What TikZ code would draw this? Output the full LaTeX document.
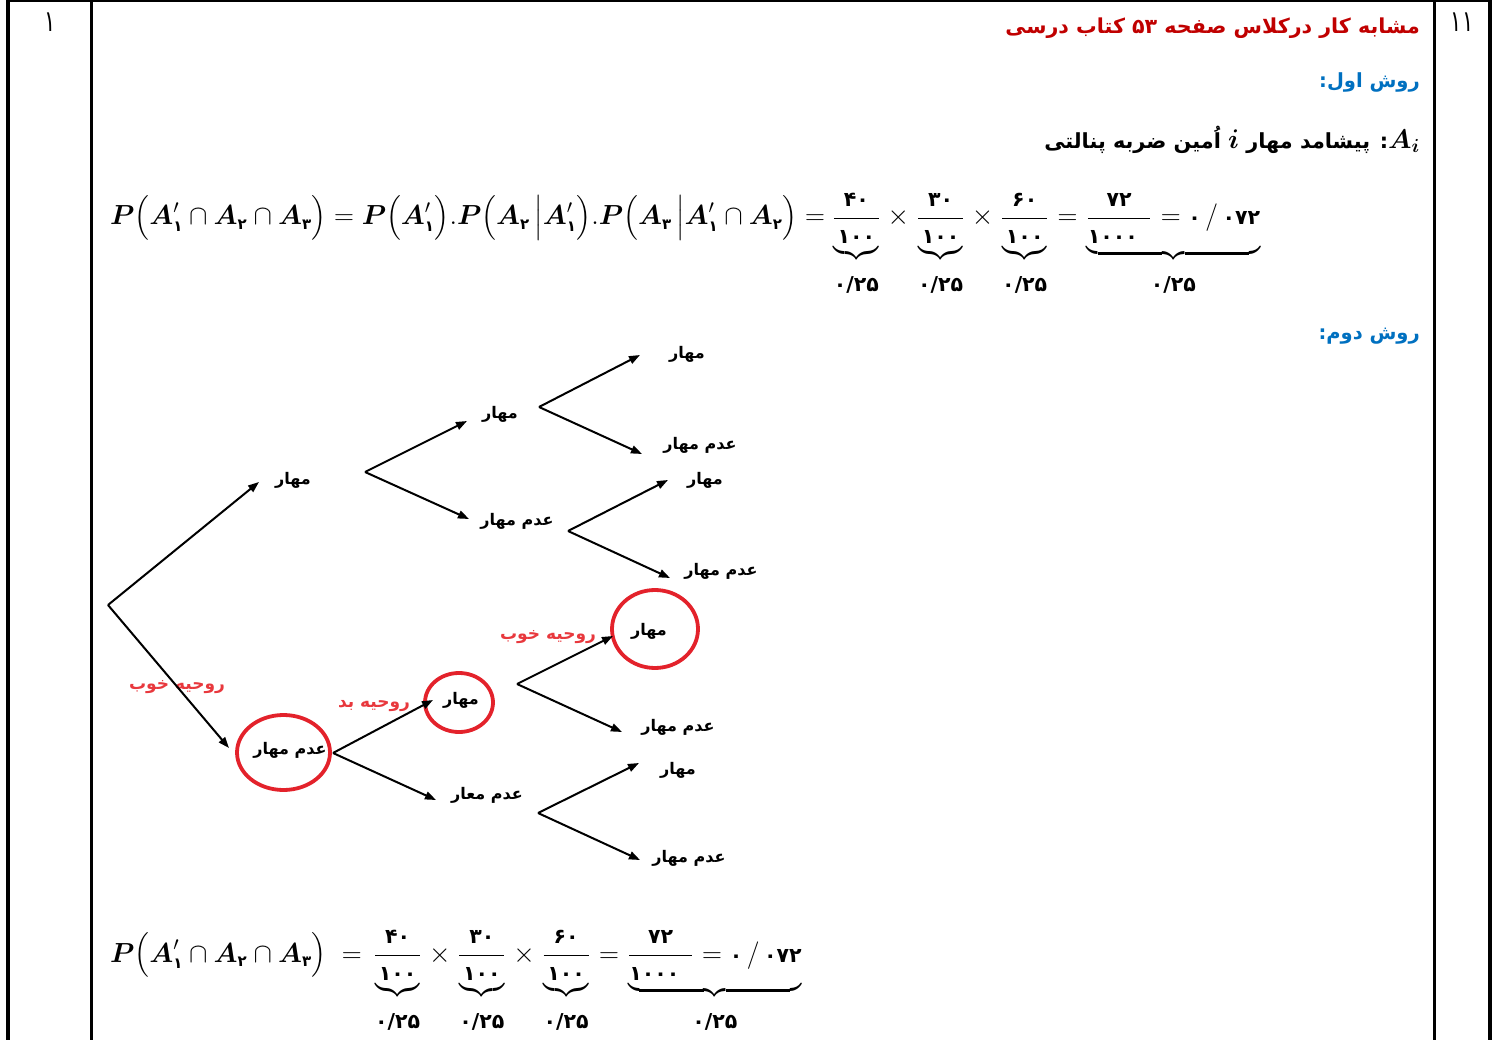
\RequirePackage{fix-cm}
\documentclass[tikz,border=0pt]{standalone}
\usepackage{amsmath}
\usepackage{bm}
\usepackage{fontspec}
\usetikzlibrary{arrows.meta,shapes.geometric}
\TeXXeTstate=1
\newfontfamily\fa[Script=Arabic]{DejaVu Sans}
\definecolor{hdrred}{HTML}{C00000}
\definecolor{hdrblue}{HTML}{0070C0}
\definecolor{circred}{HTML}{E3222B}
\definecolor{labred}{HTML}{E8383D}
\newcommand{\pn}[1]{\text{\fa\bfseries\fontsize{20.5}{22}\selectfont #1}}
\newcommand{\pns}[1]{\text{\fa\bfseries\fontsize{15}{17}\selectfont #1}}
\newcommand{\plab}[1]{\displaystyle\rule{0pt}{29pt}\pn{#1}}
\newcommand{\dstrut}{\rule[-5pt]{0pt}{5pt}}
\newcommand{\opsp}{\mkern1mu}
\newcommand{\myformula}{\bm{P}\Big(\bm{A}'_{\pns{۱}}\cap \bm{A}_{\pns{۲}}\cap \bm{A}_{\pns{۳}}\Big)}
\newcommand{\myfracs}{\frac{\pn{۴۰}}{\underbrace{\pn{۱۰۰}\dstrut}_{\plab{۰/۲۵}}}\opsp\times\opsp
\frac{\pn{۳۰}}{\underbrace{\pn{۱۰۰}\dstrut}_{\plab{۰/۲۵}}}\opsp\times\opsp
\frac{\pn{۶۰}}{\underbrace{\pn{۱۰۰}\dstrut}_{\plab{۰/۲۵}}}\opsp=\opsp
\underbrace{\frac{\pn{۷۲}}{\pn{۱۰۰۰}\dstrut\hspace{0.45em}}\opsp = \pn{۰}\,/\,\pn{۰۷۲}}_{\plab{۰/۲۵}}}
\tikzset{
  lbl/.style={font=\fa\bfseries\fontsize{16}{18}\selectfont, inner sep=1pt},
  rlab/.style={font=\fa\bfseries\fontsize{17}{19}\selectfont, text=labred, inner sep=1pt},
  arr/.style={line width=2pt, -{Triangle[length=11pt,width=8pt]}},
  rcirc/.style={draw=circred, line width=3.8pt, ellipse, inner sep=0pt},
  frameline/.style={line width=2.4pt},
  thickframe/.style={line width=4pt},
  head/.style={anchor=east, inner sep=0pt}
}
\begin{document}
\begin{tikzpicture}[x=1pt,y=-1pt]
\useasboundingbox (0,0) rectangle (1497,1040);
% frame
\coordinate (fl0) at (7.5,0); \coordinate (fl1) at (7.5,1040);
\coordinate (fr0) at (1490,0); \coordinate (fr1) at (1490,1040);
\coordinate (ft0) at (7.5,1); \coordinate (ft1) at (1490,1);
\coordinate (va0) at (91.5,0); \coordinate (va1) at (91.5,1040);
\coordinate (vb0) at (1434.5,0); \coordinate (vb1) at (1434.5,1040);
\draw[thickframe] (fl0) -- (fl1);
\draw[thickframe] (fr0) -- (fr1);
\draw[line width=2.5pt] (ft0) -- (ft1);
\draw[frameline] (va0) -- (va1);
\draw[frameline] (vb0) -- (vb1);
% cell numbers
\node[inner sep=0pt] (num1) at (50,22) {\scalebox{1}[1.4]{\fa\fontsize{21}{24}\selectfont ۱}};
\node[inner sep=0pt] (num11) at (1462,22) {\scalebox{1}[1.4]{\fa\fontsize{21}{24}\selectfont ۱۱}};
% header
\node[head, text=hdrred] (title) at (1420,28) {\fa\bfseries\fontsize{20.6}{25}\selectfont\beginR مشابه کار درکلاس صفحه ۵۳ کتاب درسی\endR};
\node[head, text=hdrblue] (m1) at (1420,82) {\fa\bfseries\fontsize{19.5}{23}\selectfont\beginR روش اول:\endR};
\node[head] (def) at (1420,140) {\fa\bfseries\fontsize{20.8}{24}\selectfont\beginR {\fontsize{27}{30}\selectfont$\bm{A}_{\bm{i}}$}: پیشامد مهار {\fontsize{27}{30}\selectfont$\bm{i}$} اُمین ضربه پنالتی\endR};
\node[head, text=hdrblue] (m2) at (1420,336) {\fa\bfseries\fontsize{19.5}{23}\selectfont\beginR روش دوم:\endR};
% formula 1
\node[anchor=base west, inner sep=0pt] (f1) at (110,225) {\fontsize{27.6}{32}\selectfont$\displaystyle
\myformula = \bm{P}\Big(\bm{A}'_{\pns{۱}}\Big).\bm{P}\Big(\bm{A}_{\pns{۲}}\,\Big|\bm{A}'_{\pns{۱}}\Big).\bm{P}\Big(\bm{A}_{\pns{۳}}\,\Big|\bm{A}'_{\pns{۱}}\cap \bm{A}_{\pns{۲}}\Big)
= \myfracs$};
% formula 2
\node[anchor=base west, inner sep=0pt] (f2) at (110,962) {\fontsize{27.6}{32}\selectfont$\displaystyle
\myformula\mkern5mu = \mkern3mu\myfracs$};
% ---------------- tree ----------------
\node[lbl] (n1) at (293,480) {\beginR مهار\endR};
\node[lbl] (n2) at (500,414) {\beginR مهار\endR};
\node[lbl] (n3) at (687,354) {\beginR مهار\endR};
\node[lbl] (n4) at (700,445) {\beginR عدم مهار\endR};
\node[lbl] (n5) at (517,521) {\beginR عدم مهار\endR};
\node[lbl] (n6) at (705,480) {\beginR مهار\endR};
\node[lbl] (n7) at (721,571) {\beginR عدم مهار\endR};
\node[lbl] (n8) at (290,750) {\beginR عدم مهار\endR};
\node[lbl] (n9) at (461,700) {\beginR مهار\endR};
\node[lbl] (n10) at (487,795) {\beginR عدم معار\endR};
\node[lbl] (n11) at (649,631) {\beginR مهار\endR};
\node[lbl] (n12) at (678,727) {\beginR عدم مهار\endR};
\node[lbl] (n13) at (678,770) {\beginR مهار\endR};
\node[lbl] (n14) at (689,858) {\beginR عدم مهار\endR};
% red circles
\node[rcirc, minimum width=93pt, minimum height=75pt] (c1) at (283.5,752.5) {};
\node[rcirc, minimum width=68pt, minimum height=59pt] (c2) at (459,702.5) {};
\node[rcirc, minimum width=86pt, minimum height=78pt] (c3) at (655,629) {};
% red labels
\node[rlab] (r1) at (177,687) {\beginR روحیه خوب\endR};
\node[rlab] (r2) at (374,706) {\beginR روحیه بد\endR};
\node[rlab] (r3) at (548,637) {\beginR روحیه خوب\endR};
% vertices and tips
\coordinate (v0) at (108,605);
\coordinate (t0u) at (259,482); \coordinate (t0d) at (229,748);
\coordinate (v1) at (365,472);
\coordinate (t1u) at (467,421); \coordinate (t1d) at (469,519);
\coordinate (v2) at (539,407);
\coordinate (t2u) at (640,355); \coordinate (t2d) at (642,454);
\coordinate (v5) at (568,531);
\coordinate (t5u) at (668,480); \coordinate (t5d) at (670,578);
\coordinate (v8) at (333,753);
\coordinate (t8u) at (433,700); \coordinate (t8d) at (436,800);
\coordinate (v9) at (517,684);
\coordinate (t9u) at (613,636); \coordinate (t9d) at (622,732);
\coordinate (v10) at (538,813);
\coordinate (t10u) at (639,763); \coordinate (t10d) at (640,860);
\draw[arr] (v0) -- (t0u);
\draw[arr] (v0) -- (t0d);
\draw[arr] (v1) -- (t1u);
\draw[arr] (v1) -- (t1d);
\draw[arr] (v2) -- (t2u);
\draw[arr] (v2) -- (t2d);
\draw[arr] (v5) -- (t5u);
\draw[arr] (v5) -- (t5d);
\draw[arr] (v8) -- (t8u);
\draw[arr] (v8) -- (t8d);
\draw[arr] (v9) -- (t9u);
\draw[arr] (v9) -- (t9d);
\draw[arr] (v10) -- (t10u);
\draw[arr] (v10) -- (t10d);
\end{tikzpicture}
\end{document}
